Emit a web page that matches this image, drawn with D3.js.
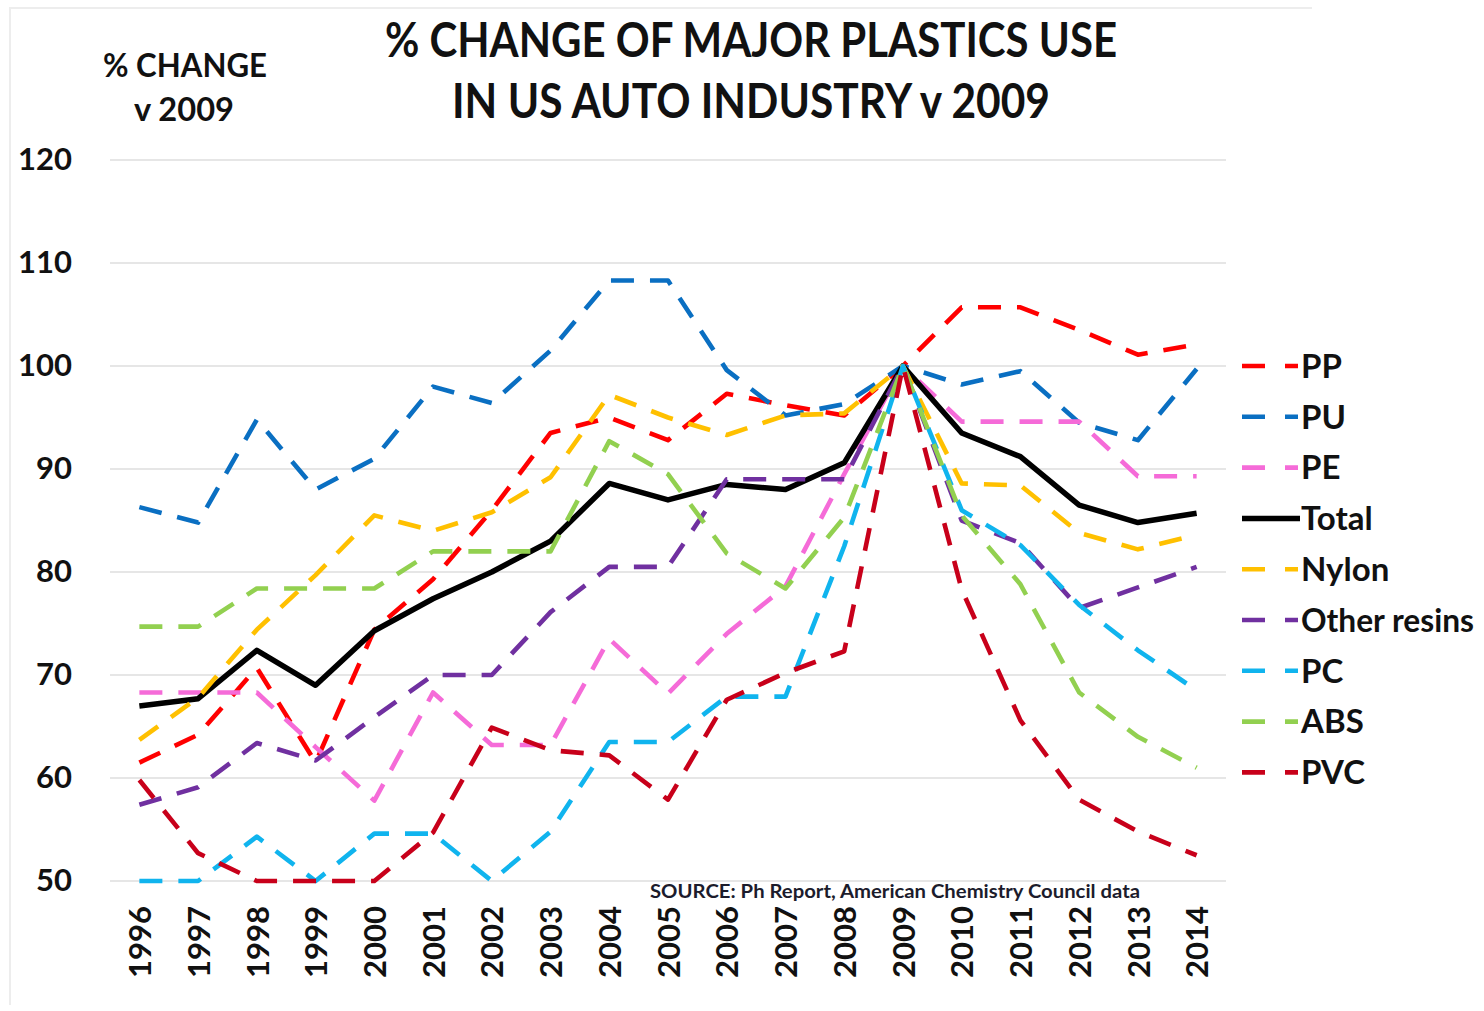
<!DOCTYPE html>
<html>
<head>
<meta charset="utf-8">
<script src="https://cdn.jsdelivr.net/npm/d3@7"></script>
<style>
  html, body { margin: 0; padding: 0; background: #fff; }
  svg { display: block; font-family: Lato, "Open Sans", "Liberation Sans", sans-serif; font-weight: 700; }
</style>
</head>
<body>
<svg id="chart" width="1484" height="1011"></svg>
<script>
// Years on the category axis
const years = ["1996","1997","1998","1999","2000","2001","2002","2003","2004","2005",
               "2006","2007","2008","2009","2010","2011","2012","2013","2014"];

// Use of each resin, indexed to 2009 = 100
const ppValues     = [61.5, 64.2, 70.7, 61.5, 74.4, 79.3, 86.0, 93.5, 95.0, 92.8, 97.3, 96.2, 95.2, 100, 105.7, 105.7, 103.5, 101.1, 102.1];
const puValues     = [86.3, 84.8, 94.8, 88.0, 91.0, 98.0, 96.4, 101.5, 108.3, 108.3, 99.6, 95.2, 96.3, 100, 98.2, 99.5, 94.5, 92.8, 99.7];
const peValues     = [68.3, 68.3, 68.3, 63.0, 57.8, 68.3, 63.2, 63.2, 73.5, 68.2, 74.0, 78.6, 89.5, 100, 94.6, 94.6, 94.6, 89.3, 89.3];
const totalValues  = [67.0, 67.7, 72.4, 69.0, 74.3, 77.4, 80.0, 83.0, 88.6, 87.0, 88.5, 88.0, 90.6, 100, 93.5, 91.2, 86.5, 84.8, 85.7];
const nylonValues  = [63.7, 67.8, 74.4, 79.7, 85.5, 84.0, 85.8, 89.2, 97.2, 95.0, 93.3, 95.2, 95.4, 100, 88.6, 88.4, 83.8, 82.2, 83.6];
const otherValues  = [57.4, 59.1, 63.4, 61.7, 65.9, 70.0, 70.0, 76.1, 80.5, 80.5, 89.0, 89.0, 89.0, 100, 85.0, 82.8, 76.5, 78.5, 80.5];
const pcValues     = [50.0, 50.0, 54.3, 50.0, 54.6, 54.6, 50.0, 54.8, 63.5, 63.5, 67.9, 67.9, 82.5, 100, 86.0, 82.6, 76.8, 72.4, 68.5];
const absValues    = [74.7, 74.7, 78.4, 78.4, 78.4, 82.0, 82.0, 82.0, 92.7, 89.5, 81.8, 78.4, 85.3, 100, 85.5, 78.8, 68.3, 64.0, 61.0];
const pvcValues    = [59.8, 52.7, 50.0, 50.0, 50.0, 54.7, 64.9, 62.7, 62.2, 57.9, 67.6, 70.2, 72.3, 100, 78.3, 65.6, 57.9, 54.8, 52.5];

const seriesNames  = ["PP", "PU", "PE", "Total", "Nylon", "Other resins", "PC", "ABS", "PVC"];
const seriesColors = ["#ff0000", "#0a6fc2", "#f56bd8", "#000000", "#ffc000", "#7030a0", "#10b4ee", "#92d050", "#c8001a"];
const yTicks = [50, 60, 70, 80, 90, 100, 110, 120];

const seriesValues = [ppValues, puValues, peValues, totalValues, nylonValues, otherValues, pcValues, absValues, pvcValues];
const series = seriesNames.map((name, i) => ({
  name, color: seriesColors[i], solid: name === "Total",
  values: seriesValues[i].map((v, j) => ({ year: years[j], value: v }))
}));

const svg = d3.select("#chart");

// Faint frame of the chart area
svg.append("path")
  .attr("d", "M10,1005 V8 H1312")
  .attr("fill", "none").attr("stroke", "#ededed").attr("stroke-width", 2);

const x = d3.scalePoint().domain(years).range([110, 1226]).padding(0.5);
const y = d3.scaleLinear().domain([50, 120]).range([881, 160]);

// Horizontal gridlines
svg.append("g").selectAll("line").data(yTicks).join("line")
  .attr("x1", 110).attr("x2", 1226)
  .attr("y1", d => y(d)).attr("y2", d => y(d))
  .attr("stroke", "#e6e6e6").attr("stroke-width", 2);

// Value axis labels
const yAxis = svg.append("g").attr("transform", "translate(110,0)")
  .call(d3.axisLeft(y).tickValues(yTicks).tickSize(0).tickPadding(38).tickFormat(d3.format("d")));
yAxis.select(".domain").remove();
yAxis.selectAll("text").attr("font-size", 31).attr("font-family", "Lato, sans-serif")
  .attr("font-weight", 700).attr("fill", "#111");

// Year labels, rotated to read bottom-to-top
const xAxis = svg.append("g").attr("transform", "translate(0,881)")
  .call(d3.axisBottom(x).tickSize(0));
xAxis.select(".domain").remove();
xAxis.selectAll("text")
  .attr("font-size", 31).attr("font-family", "Lato, sans-serif").attr("font-weight", 700).attr("fill", "#111")
  .attr("transform", "rotate(-90)")
  .attr("text-anchor", "end")
  .attr("x", -25).attr("y", 0).attr("dy", "0.36em");

// Series lines
const line = d3.line().x(d => x(d.year)).y(d => y(d.value));
svg.append("g").selectAll("path").data(series).join("path")
  .attr("d", d => line(d.values))
  .attr("fill", "none")
  .attr("stroke", d => d.color)
  .attr("stroke-width", d => d.solid ? 5.5 : 4.6)
  .attr("stroke-dasharray", d => d.solid ? null : "23,16")
  .attr("stroke-linejoin", "round");

// Legend
const legendX = 1242;
const legend = svg.append("g").selectAll("g").data(series).join("g")
  .attr("transform", (d, i) => `translate(${legendX},${366 + i * 50.8})`);
legend.append("path")
  .attr("d", d => d.solid ? "M0,0 H58" : "M0,0 H23 M43,0 H56")
  .attr("stroke", d => d.color)
  .attr("stroke-width", d => d.solid ? 5.5 : 4.6)
  .attr("fill", "none");
legend.append("text")
  .attr("x", 59).attr("dy", "0.36em")
  .attr("font-size", 33).attr("fill", "#111")
  .text(d => d.name)
  .each(function () {
    // keep the longest label a few pixels inside the right edge
    const room = 1474 - (legendX + 59);
    if (this.getComputedTextLength() > room) {
      d3.select(this).attr("textLength", room).attr("lengthAdjust", "spacingAndGlyphs");
    }
  });

// Titles
const title = svg.append("g").attr("fill", "#111").attr("text-anchor", "middle");
title.append("text").attr("x", 751).attr("y", 57).attr("font-size", 48)
  .attr("textLength", 732).attr("lengthAdjust", "spacingAndGlyphs")
  .text("% CHANGE OF MAJOR PLASTICS USE");
title.append("text").attr("x", 751).attr("y", 118).attr("font-size", 48)
  .attr("textLength", 598).attr("lengthAdjust", "spacingAndGlyphs")
  .text("IN US AUTO INDUSTRY v 2009");
title.append("text").attr("x", 185).attr("y", 77).attr("font-size", 33)
  .attr("textLength", 164).attr("lengthAdjust", "spacingAndGlyphs")
  .text("% CHANGE");
title.append("text").attr("x", 184).attr("y", 121).attr("font-size", 33)
  .attr("textLength", 100).attr("lengthAdjust", "spacingAndGlyphs")
  .text("v 2009");

// Source note
svg.append("text").attr("x", 650).attr("y", 898).attr("font-size", 18).attr("fill", "#1c1c2c")
  .attr("textLength", 490).attr("lengthAdjust", "spacingAndGlyphs")
  .text("SOURCE: Ph Report, American Chemistry Council data");
</script>
</body>
</html>
